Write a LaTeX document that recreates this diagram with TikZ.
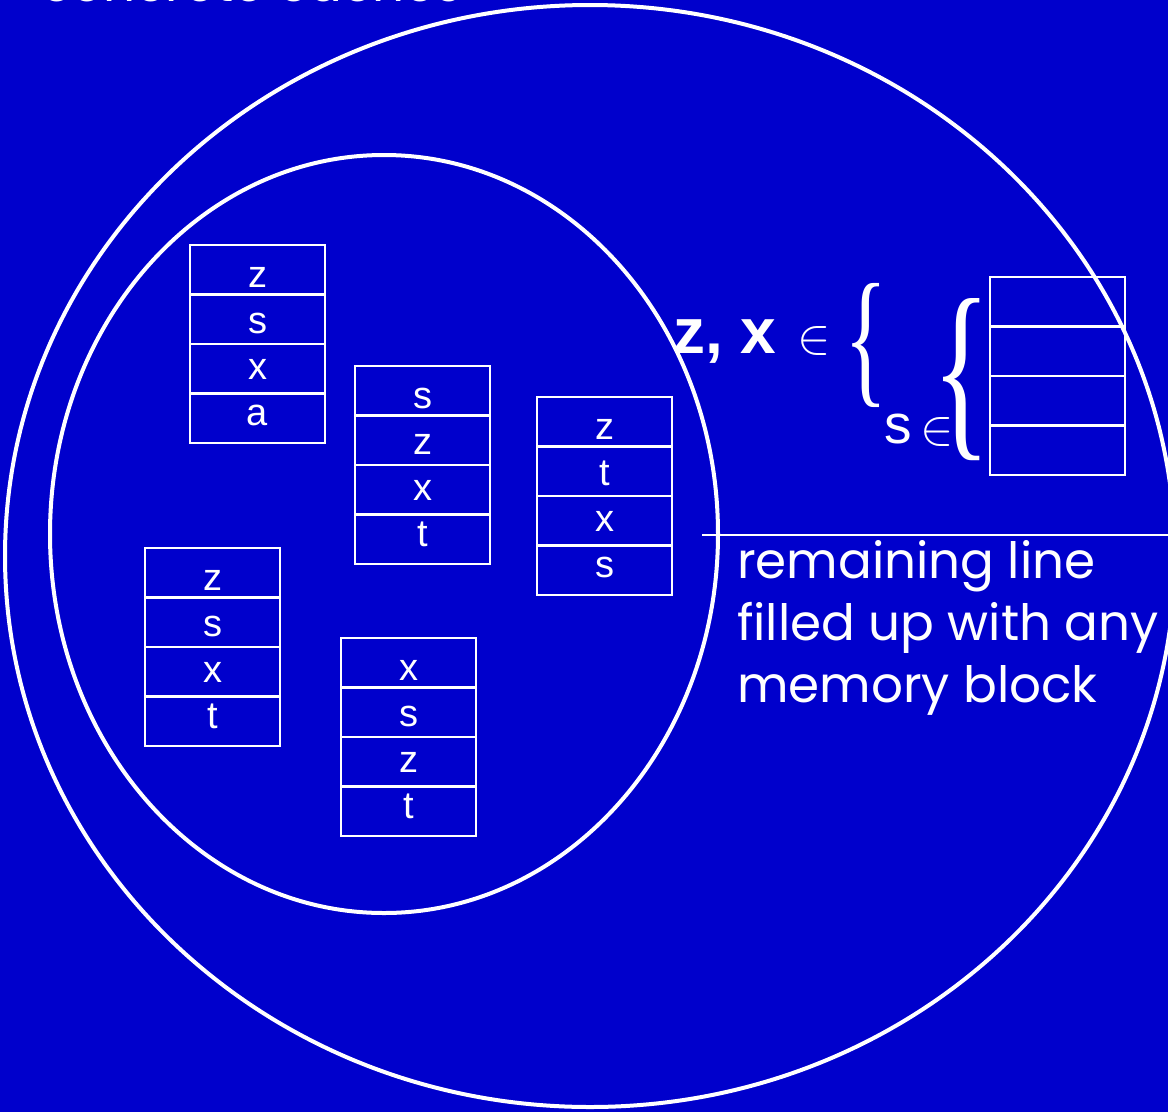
\RequirePackage{fix-cm}
\documentclass[tikz,border=0pt]{standalone}
\usepackage{fontspec}
\setmainfont{Liberation Sans}
\newfontfamily\handfont{Poppins}
\newfontfamily\serifbrace{Liberation Serif}
\definecolor{slideblue}{RGB}{0,0,204}

\tikzset{
  setline/.style={draw=white, line width=4pt},
  cacherow/.style={draw=white, line width=2.5pt, minimum width=135pt, minimum height=49.5pt,
                   inner sep=0pt, outer sep=0pt, anchor=north west},
  rowtag/.style={text=white, anchor=base, inner sep=0pt,
                 font=\fontsize{38}{38}\selectfont},
  handtext/.style={text=white, anchor=base west, inner sep=0pt,
                   font=\handfont\fontsize{50}{62}\selectfont},
  elem/.style={text=white, anchor=base west, inner sep=0pt,
               font=\fontsize{50}{50}\selectfont},
}

% one cache set: four stacked lines with their memory blocks
\newcommand{\cacheset}[7]{%
  \foreach \lbl [count=\i] in {#4,#5,#6,#7} {
    \node[cacherow] (#1r\i) at (#2, {#3 + (\i-1)*49.5}) {};
    \node[rowtag] (#1t\i) at ({#2 + 67.5}, {#3 + 42 + (\i-1)*46}) {\lbl};
  }%
}

\begin{document}
\begin{tikzpicture}[x=1pt, y=-1pt]
  \useasboundingbox (0,0) rectangle (1168,1112);
  \fill[slideblue] (0,0) rectangle (1168,1112);

  \begin{scope}
    \clip (0,0) rectangle (1168,1112);
    % title line above the picture
    \node[handtext, anchor=base east] (title) at (462,1) {concrete caches};
    % outer set: all concrete caches; inner set: those described by the abstract cache
    \draw[setline] (590,556) ellipse [x radius=585pt, y radius=551pt];
    \draw[setline] (384,534) ellipse [x radius=334pt, y radius=379pt];
    % separator under the abstract cache
    \coordinate (sepA) at (702,535);
    \coordinate (sepB) at (1168,535);
    \draw[white, line width=1.5pt] (sepA) -- (sepB);
  \end{scope}

  % concrete cache sets
  \cacheset{ca}{190}{245}{z}{s}{x}{a}
  \cacheset{cb}{355}{366}{s}{z}{x}{t}
  \cacheset{cc}{537}{397}{z}{t}{x}{s}
  \cacheset{cd}{145}{548}{z}{s}{x}{t}
  \cacheset{ce}{341}{638}{x}{s}{z}{t}

  % abstract cache set
  \foreach \i in {1,...,4} {
    \node[cacherow] (abs\i) at (990, {277 + (\i-1)*49.5}) {};
  }

  % contents of the abstract set
  \node[text=white, anchor=base west, inner sep=0pt,
        font=\bfseries\fontsize{64}{64}\selectfont] (zx) at (673,353) {z, x};
  \node[elem] (in1) at (797,353) {$\in$};
  \node[text=white, inner sep=0pt, anchor=center] (br1) at (866,345)
        {\scalebox{0.6}[1]{\serifbrace\fontsize{150}{150}\selectfont\{}};
  \node[text=white, anchor=base west, inner sep=0pt,
        font=\fontsize{55}{55}\selectfont] (sl) at (884,443) {s};
  \node[elem] (in2) at (920,444) {$\in$};
  \node[text=white, inner sep=0pt, anchor=center] (br2) at (962,380)
        {\scalebox{0.62}[1]{\serifbrace\fontsize{196}{196}\selectfont\{}};

  % explanation
  \node[handtext, align=left, anchor=north west] (note) at (737,540)
        {remaining line\\filled up with any\\memory block};
\end{tikzpicture}
\end{document}
